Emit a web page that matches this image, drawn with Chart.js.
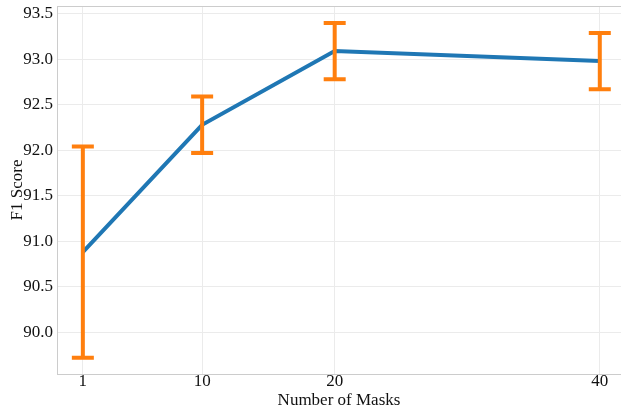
<!DOCTYPE html>
<html>
<head>
<meta charset="utf-8">
<script src="https://cdn.jsdelivr.net/npm/chart.js@4.4.1/dist/chart.umd.min.js"></script>
<style>
  html, body { margin: 0; padding: 0; background: #ffffff; overflow: hidden; }
  #wrap { width: 621px; height: 411px; position: relative; }
</style>
</head>
<body>
<div id="wrap"><canvas id="c"></canvas></div>
<script>
// Number of masks vs. F1 score, with error bars
const maskCounts = [1, 10, 20, 40];
const f1Means = [90.88, 92.28, 93.09, 92.98];
const f1Errors = [1.16, 0.31, 0.31, 0.31];
const xTickValues = [1, 10, 20, 40];
const yTickValues = [90.0, 90.5, 91.0, 91.5, 92.0, 92.5, 93.0, 93.5];

const FONT = 'Liberation Serif';
const TEXT = '#111111';
Chart.defaults.font.family = FONT;
Chart.defaults.font.size = 17;
Chart.defaults.color = TEXT;

// Vertical error bars with caps, drawn through the chart's own scales
const errorBarPlugin = {
  id: 'errorBars',
  afterDatasetsDraw(chart) {
    const { ctx, scales: { x, y } } = chart;
    ctx.save();
    ctx.strokeStyle = '#ff7f0e';
    ctx.lineWidth = 4;
    ctx.lineCap = 'butt';
    const capHalf = 11;
    maskCounts.forEach((m, i) => {
      const px = x.getPixelForValue(m);
      const top = y.getPixelForValue(f1Means[i] + f1Errors[i]);
      const bot = y.getPixelForValue(f1Means[i] - f1Errors[i]);
      ctx.beginPath();
      ctx.moveTo(px, top);
      ctx.lineTo(px, bot);
      ctx.moveTo(px - capHalf, top);
      ctx.lineTo(px + capHalf, top);
      ctx.moveTo(px - capHalf, bot);
      ctx.lineTo(px + capHalf, bot);
      ctx.stroke();
    });
    ctx.restore();
  }
};

// Frame around the plotting area
const framePlugin = {
  id: 'frame',
  afterDraw(chart) {
    const { ctx, chartArea: a } = chart;
    ctx.save();
    ctx.strokeStyle = '#cccccc';
    ctx.lineWidth = 1;
    ctx.strokeRect(a.left + 0.5, a.top + 0.5, a.right - a.left, a.bottom - a.top);
    ctx.restore();
  }
};

new Chart(document.getElementById('c'), {
  type: 'line',
  data: {
    datasets: [{
      data: maskCounts.map((m, i) => ({ x: m, y: f1Means[i] })),
      borderColor: '#1f77b4',
      borderWidth: 4,
      pointRadius: 0,
      pointHoverRadius: 0,
      tension: 0,
      fill: false
    }]
  },
  options: {
    responsive: true,
    maintainAspectRatio: false,
    animation: false,
    devicePixelRatio: 1,
    layout: { padding: { top: 6, right: 0, bottom: 0, left: 0 } },
    plugins: { legend: { display: false }, tooltip: { enabled: false } },
    scales: {
      x: {
        type: 'linear',
        min: -0.95,
        max: 41.6,
        afterBuildTicks(scale) { scale.ticks = xTickValues.map(v => ({ value: v })); },
        afterFit(scale) {
          scale.height = 37;
          scale.paddingLeft = 0;
          scale.paddingRight = 0;
        },
        grid: { color: '#ebebeb', lineWidth: 1, drawTicks: false },
        border: { display: false },
        ticks: {
          padding: -1,
          color: TEXT,
          font: { family: FONT, size: 17, lineHeight: 1 },
          maxRotation: 0,
          callback: v => String(v)
        },
        title: {
          display: true,
          text: 'Number of Masks',
          color: TEXT,
          font: { family: FONT, size: 17 },
          padding: { top: 0, bottom: 0 }
        }
      },
      y: {
        type: 'linear',
        min: 89.54,
        max: 93.586,
        afterBuildTicks(scale) { scale.ticks = yTickValues.map(v => ({ value: v })); },
        afterFit(scale) {
          scale.width = 57;
          scale.paddingTop = 0;
          scale.paddingBottom = 0;
        },
        grid: { color: '#ebebeb', lineWidth: 1, drawTicks: false },
        border: { display: false },
        ticks: {
          padding: 4,
          color: TEXT,
          font: { family: FONT, size: 17 },
          callback: v => Number(v).toFixed(1)
        },
        title: {
          display: true,
          text: 'F1 Score',
          color: TEXT,
          font: { family: FONT, size: 17 },
          padding: { top: 7, bottom: 0 }
        }
      }
    }
  },
  plugins: [errorBarPlugin, framePlugin]
});
</script>
</body>
</html>
